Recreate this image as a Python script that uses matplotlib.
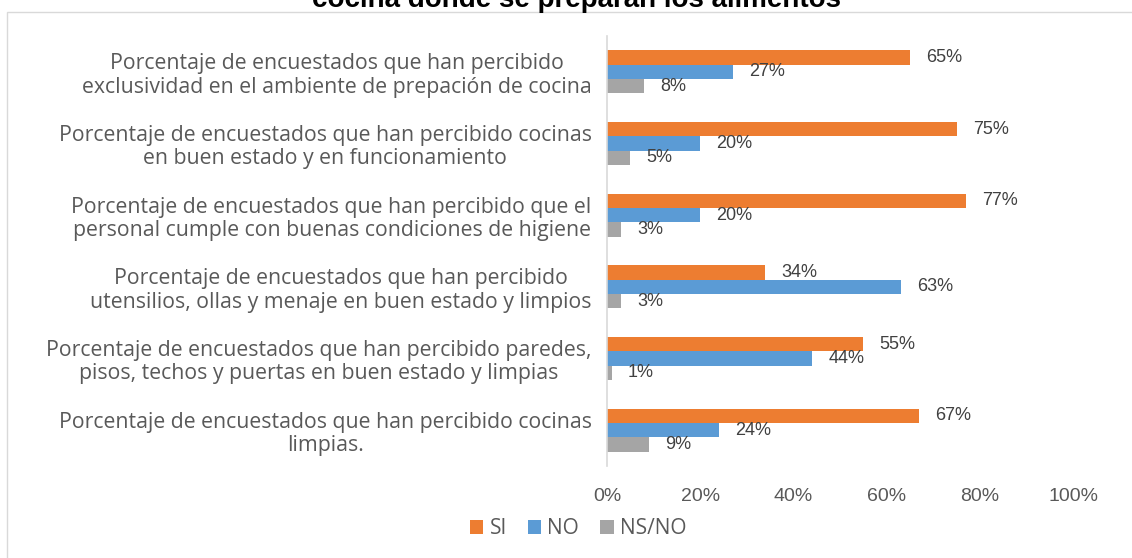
import numpy as np
import matplotlib.pyplot as plt
from matplotlib.patches import Rectangle

# data, top to bottom as in the chart
categories = [
    "Porcentaje de encuestados que han percibido\nexclusividad en el ambiente de prepación de cocina",
    "Porcentaje de encuestados que han percibido cocinas\nen buen estado y en funcionamiento",
    "Porcentaje de encuestados que han percibido que el\npersonal cumple con buenas condiciones de higiene",
    "Porcentaje de encuestados que han percibido\nutensilios, ollas y menaje en buen estado y limpios",
    "Porcentaje de encuestados que han percibido paredes,\npisos, techos y puertas en buen estado y limpias",
    "Porcentaje de encuestados que han percibido cocinas\nlimpias.",
]
si = [65, 75, 77, 34, 55, 67]
no = [27, 20, 20, 63, 44, 24]
nsno = [8, 5, 3, 3, 1, 9]
series_names = ["SI", "NO", "NS/NO"]
colors = ["#ED7D31", "#5B9BD5", "#A5A5A5"]

W, H = 1132, 558
fig = plt.figure(figsize=(W / 100, H / 100), dpi=100)
fig.patch.set_facecolor("white")

# outer chart frame (runs past the right and bottom edges)
fig.add_artist(Rectangle((7 / W, -5 / H), (W + 5) / W, (H - 7) / H,
                         transform=fig.transFigure, fill=False,
                         edgecolor="#d9d9d9", linewidth=1))

# title (mostly cut off above the image in the reference)
fig.text(576 / W, 1 - 7 / H, "cocina donde se preparan los alimentos",
         ha="center", va="baseline", fontsize=20, fontweight="bold",
         family="Liberation Sans", color="black")

ax = fig.add_axes([607 / W, 1 - 466 / H, 466 / W, 430 / H])

y = np.arange(len(categories))
h = 0.2
for i, (vals, name, c) in enumerate(zip([si, no, nsno], series_names, colors)):
    pos = y - h + i * h
    ax.barh(pos, vals, height=h, color=c, label=name)
    for p, v in zip(pos, vals):
        ax.text(v + 3.5, p, f"{v}%", ha="left", va="center",
                fontsize=13, color="#404040", family="Liberation Sans")

ax.set_xlim(0, 100)
ax.set_ylim(len(categories) - 0.5, -0.5)
ax.set_xticks(np.arange(0, 101, 20))
ax.set_xticklabels([f"{t}%" for t in range(0, 101, 20)],
                   fontsize=14, color="#595959", family="Liberation Sans")
ax.tick_params(axis="x", length=0, pad=16)
ax.set_yticks(y)
ax.set_yticklabels(categories, fontsize=15.3, color="#595959",
                   family="Open Sans", multialignment="center",
                   linespacing=1.15)
ax.tick_params(axis="y", length=0, pad=11)
for s in ["top", "right", "bottom"]:
    ax.spines[s].set_visible(False)
ax.spines["left"].set_color("#d9d9d9")
ax.spines["left"].set_linewidth(1.2)

leg = fig.legend(loc="center", bbox_to_anchor=(578 / W, 1 - 529 / H), ncol=3,
                 frameon=False, handlelength=0.65, handleheight=0.65,
                 handletextpad=0.3, columnspacing=1.0,
                 prop={"family": "Open Sans", "size": 15})
for t in leg.get_texts():
    t.set_color("#595959")

fig.savefig("out.png", dpi=100)
